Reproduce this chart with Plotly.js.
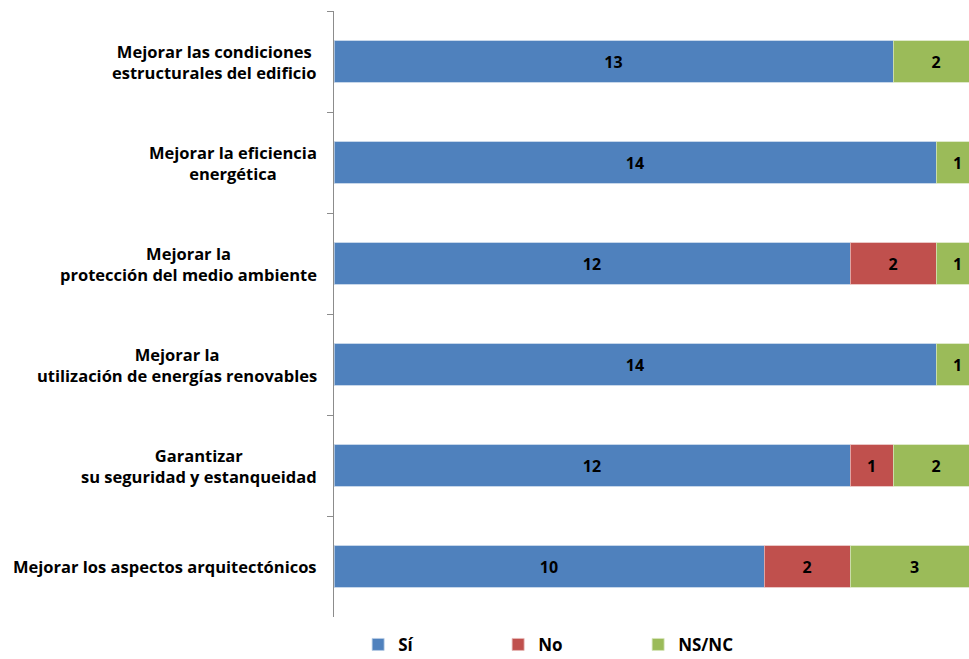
<!DOCTYPE html>
<html>
<head>
<meta charset="utf-8">
<script src="https://cdn.plot.ly/plotly-3.0.1.min.js"></script>
<style>html,body{margin:0;padding:0;background:#fff;overflow:hidden}</style>
</head>
<body>
<div id="chart" style="width:969px;height:659px"></div>
<script>
const categories = [
  "Mejorar las condiciones<br>estructurales del edificio",
  "Mejorar la eficiencia<br>energética",
  "Mejorar la<br>protección del medio ambiente",
  "Mejorar la<br>utilización de energías renovables",
  "Garantizar<br>su seguridad y estanqueidad",
  "Mejorar los aspectos arquitectónicos"
];
const seriesNames = ["Sí", "No", "NS/NC"];
const si   = [13, 14, 12, 14, 12, 10];
const no   = [0, 0, 2, 0, 1, 2];
const nsnc = [2, 1, 1, 1, 2, 3];
const colors = ["#4F81BD", "#C0504D", "#9BBB59"];
const lineColors = ["#B9CDE5", "#E6B9B8", "#D7E4BD"];
const FONT = "'Open Sans', sans-serif";

const vals = [si, no, nsnc];
const traces = vals.map((v, i) => ({
  type: "bar",
  orientation: "h",
  name: seriesNames[i],
  y: categories,
  x: v,
  width: 0.41,
  marker: {color: colors[i], line: {color: lineColors[i], width: 0.8}},
  text: v.map(n => n > 0 ? "<b>" + n + "</b>" : ""),
  textposition: "inside",
  insidetextanchor: "middle",
  textangle: 0,
  textfont: {family: FONT, size: 16, color: "#000"},
  hoverinfo: "x+name"
}));

const annotations = categories.map(c => ({
  xref: "paper", yref: "y", x: 0, y: c,
  xanchor: "right", yanchor: "middle", xshift: -15,
  align: "center", showarrow: false,
  text: "<b>" + c + "</b>",
  font: {family: FONT, size: 16.5, color: "#000"}
}));

const layout = {
  width: 969, height: 659,
  margin: {l: 334, r: 0, t: 11, b: 42, autoexpand: false},
  barmode: "stack",
  paper_bgcolor: "#fff", plot_bgcolor: "#fff",
  showlegend: true,
  legend: {
    orientation: "h", x: 0.038, xanchor: "left", y: -0.046, yanchor: "middle",
    font: {family: FONT, size: 17, color: "#000", weight: "bold"},
    entrywidth: 95, entrywidthmode: "pixels",
    traceorder: "normal"
  },
  xaxis: {
    range: [0, 14.767], showgrid: false, zeroline: false, showline: false,
    showticklabels: false, ticks: "", fixedrange: true
  },
  yaxis: {
    type: "category", categoryorder: "array", categoryarray: categories,
    range: [5.5, -0.5], showgrid: false, zeroline: false,
    showline: true, linecolor: "#8C8C8C", linewidth: 1,
    ticks: "outside", tickson: "boundaries", ticklen: 6, tickcolor: "#8C8C8C",
    showticklabels: false, fixedrange: true
  },
  annotations: annotations
};

Plotly.newPlot("chart", traces, layout, {displayModeBar: false, staticPlot: true});
</script>
</body>
</html>
